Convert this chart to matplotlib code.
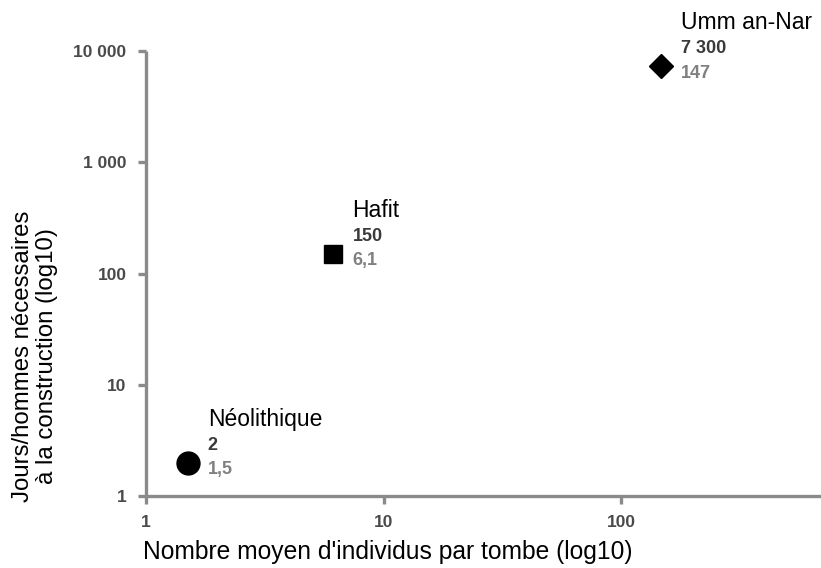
import numpy as np
import matplotlib
matplotlib.use('Agg')
import matplotlib.pyplot as plt
from matplotlib.ticker import FixedLocator, FuncFormatter, NullLocator

plt.rcParams['font.family'] = ['Liberation Sans', 'DejaVu Sans']

# data
periods = ['Néolithique', 'Hafit', 'Umm an-Nar']
individus = [1.5, 6.1, 147]
jours = [2, 150, 7300]
x_labels = ['1,5', '6,1', '147']
y_labels = ['2', '150', '7 300']
markers = ['o', 's', 'D']
msizes = [16.5, 12.5, 12]

x_ticks = [1, 10, 100]
y_ticks = [1, 10, 100, 1000, 10000]

gray = '#8a8a8a'

fig = plt.figure(figsize=(8.21, 5.68), dpi=100)
ax = fig.add_axes([146 / 821, 72 / 568, 675 / 821, 445 / 568])

for xi, yi, m, ms in zip(individus, jours, markers, msizes):
    ax.plot(xi, yi, marker=m, color='black', markersize=ms, linestyle='none',
            clip_on=False)

pt = 72 / 100  # pixels -> points
for name, xi, yi, xl, yl in zip(periods, individus, jours, x_labels, y_labels):
    ax.annotate(name, (xi, yi), xytext=(20 * pt, 37 * pt), textcoords='offset points',
                fontsize=16.5, color='black', va='baseline', ha='left')
    ax.annotate(yl, (xi, yi), xytext=(20 * pt, 13 * pt), textcoords='offset points',
                fontsize=13, fontweight='bold', color='#3a3a3a', va='baseline', ha='left')
    ax.annotate(xl, (xi, yi), xytext=(20 * pt, -11.5 * pt), textcoords='offset points',
                fontsize=13, fontweight='bold', color='#808080', va='baseline', ha='left')

ax.set_xscale('log')
ax.set_yscale('log')
ax.set_xlim(1, 10 ** (675 / 237.5))
ax.set_ylim(1, 10000)

ax.xaxis.set_major_locator(FixedLocator(x_ticks))
ax.yaxis.set_major_locator(FixedLocator(y_ticks))
ax.xaxis.set_minor_locator(NullLocator())
ax.yaxis.set_minor_locator(NullLocator())
fmt = FuncFormatter(lambda v, p: '{:,}'.format(int(round(v))).replace(',', ' '))
ax.xaxis.set_major_formatter(fmt)
ax.yaxis.set_major_formatter(fmt)

for s in ['top', 'right']:
    ax.spines[s].set_visible(False)
for s in ['left', 'bottom']:
    ax.spines[s].set_color(gray)
    ax.spines[s].set_linewidth(2.4)
    ax.spines[s].set_capstyle('butt')

ax.tick_params(axis='both', which='major', direction='out', length=6, width=2.4,
               color=gray, labelsize=12.5, labelcolor='#4a4a4a', pad=8)
for lab in ax.get_xticklabels() + ax.get_yticklabels():
    lab.set_fontweight('bold')

fig.text(388 / 821, 1 - 552 / 568, "Nombre moyen d'individus par tombe (log10)",
         ha='center', va='center', fontsize=17.7, color='black')
fig.text(35 / 821, 1 - 356 / 568, 'Jours/hommes nécessaires\nà la construction (log10)',
         ha='center', va='center', rotation=90, fontsize=17.3, color='black',
         multialignment='center', linespacing=1.12)

fig.savefig('out.png', dpi=100)
